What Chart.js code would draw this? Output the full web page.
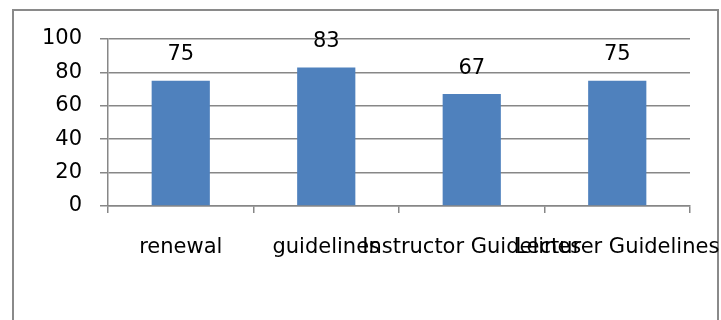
<!DOCTYPE html>
<html>
<head>
<meta charset="utf-8">
<script src="https://cdn.jsdelivr.net/npm/chart.js@4"></script>
<style>
  html, body { margin: 0; padding: 0; background: #fff; }
  #wrap { position: relative; width: 721px; height: 320px; }
</style>
</head>
<body>
<div id="wrap"><canvas id="myChart" width="721" height="320"></canvas></div>
<script>
// data
let categories = ["renewal", "guidelines", "Instructor Guidelines", "Lecturer Guidelines"];
let scores = [75, 83, 67, 75];
let yMin = 0;
let yMax = 100;
let yStep = 20;

const font = { family: "'DejaVu Sans', sans-serif", size: 21 };
const gridGrey = '#878787';

// grey frame round the whole chart
const framePlugin = {
    id: 'frame',
    beforeDraw(chart) {
        const ctx = chart.ctx;
        ctx.save();
        ctx.strokeStyle = '#8a8a8a';
        ctx.lineWidth = 2;
        ctx.strokeRect(13, 10, 705, 330);
        ctx.restore();
    }
};

// numbers above the bars
const valueLabels = {
    id: 'valueLabels',
    afterDatasetsDraw(chart) {
        const ctx = chart.ctx;
        const meta = chart.getDatasetMeta(0);
        ctx.save();
        ctx.font = font.size + 'px ' + font.family;
        ctx.fillStyle = '#000';
        ctx.textAlign = 'center';
        ctx.textBaseline = 'middle';
        meta.data.forEach((bar, i) => {
            ctx.fillText(String(chart.data.datasets[0].data[i]), bar.x, bar.y - 26);
        });
        ctx.restore();
    }
};

const ctx = document.getElementById('myChart').getContext('2d');
const myChart = new Chart(ctx, {
    type: 'bar',
    data: {
        labels: categories,
        datasets: [{
            data: scores,
            backgroundColor: '#4f81bd',
            borderWidth: 0,
            barPercentage: 0.4,
            categoryPercentage: 1.0
        }]
    },
    options: {
        responsive: false,
        animation: false,
        layout: { padding: { top: 39, right: 31, left: 0, bottom: 0 } },
        plugins: {
            legend: { display: false },
            tooltip: { enabled: false }
        },
        scales: {
            x: {
                grid: {
                    offset: true,
                    drawOnChartArea: false,
                    drawTicks: true,
                    tickLength: 7,
                    color: gridGrey,
                    lineWidth: 1.5
                },
                border: { display: true, color: gridGrey, width: 1.5 },
                ticks: {
                    autoSkip: false,
                    maxRotation: 0,
                    minRotation: 0,
                    padding: 22,
                    color: '#000',
                    font: font
                },
                afterFit(scale) {
                    scale.height = 114;
                    // labels may spill past the plot, like the original
                    scale.paddingLeft = 0;
                    scale.paddingRight = 0;
                }
            },
            y: {
                min: yMin,
                max: yMax,
                grid: {
                    color: gridGrey,
                    lineWidth: 1.5,
                    tickLength: 8
                },
                border: { display: true, color: gridGrey, width: 1.5 },
                ticks: {
                    stepSize: yStep,
                    padding: 18,
                    color: '#000',
                    font: font
                },
                afterFit(scale) {
                    scale.width = 108;
                    scale.paddingTop = 0;
                    scale.paddingBottom = 0;
                }
            }
        }
    },
    plugins: [framePlugin, valueLabels]
});
</script>
</body>
</html>
